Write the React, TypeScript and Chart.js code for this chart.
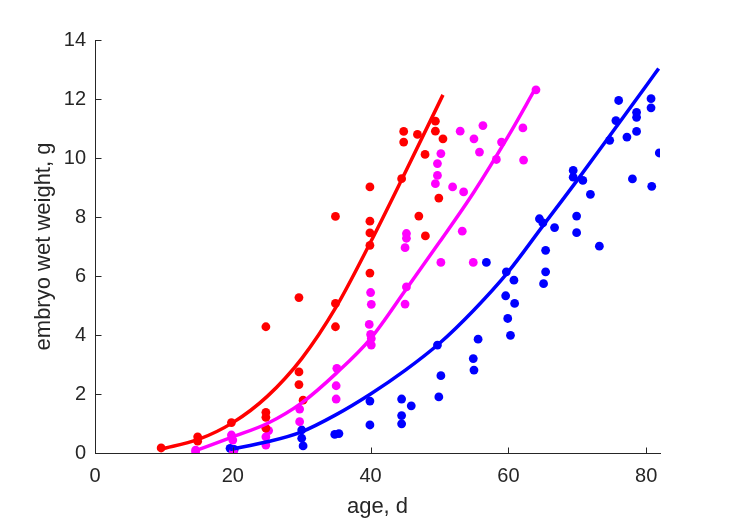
import React, { useEffect, useRef } from "react";
import { Chart, registerables } from "chart.js";

Chart.register(...registerables);

// ---- data ----
const redAge = [9.6, 14.9, 14.9, 19.8, 24.8, 24.8, 24.8, 24.8, 29.6, 29.6, 29.6, 30.2, 34.9, 34.9, 34.9, 39.9, 39.9, 39.9, 39.9, 39.9, 44.5, 44.8, 44.8, 46.8, 47.0, 47.9, 47.95, 49.4, 49.4, 49.9, 50.5];
const redWeight = [0.17, 0.55, 0.4, 1.03, 1.38, 1.21, 0.84, 4.28, 5.27, 2.75, 2.32, 1.79, 8.02, 5.07, 4.28, 9.02, 7.86, 7.46, 7.04, 6.1, 9.3, 10.9, 10.54, 10.8, 8.03, 10.12, 7.36, 11.25, 10.91, 8.64, 10.65];

const magentaAge = [14.6, 14.6, 19.8, 20.0, 20.1, 25.2, 24.8, 24.8, 29.7, 29.7, 35.1, 35.0, 35.0, 40.0, 40.1, 39.8, 40.0, 40.1, 40.1, 45.2, 45.2, 45.0, 45.2, 45.0, 49.4, 49.7, 49.7, 50.2, 50.2, 51.9, 53.5, 53.0, 53.3, 55.0, 55.8, 56.3, 54.9, 58.25, 59.0, 62.1, 62.2, 64.0];
const magentaWeight = [0.1, 0.04, 0.61, 0.44, 0.04, 0.76, 0.55, 0.27, 1.49, 1.06, 2.87, 2.28, 1.83, 5.44, 5.04, 4.36, 4.02, 3.88, 3.66, 7.44, 7.28, 6.96, 5.63, 5.05, 9.13, 9.41, 9.81, 10.15, 6.46, 9.02, 8.85, 10.91, 7.52, 10.65, 10.2, 11.1, 6.46, 9.95, 10.54, 11.02, 9.93, 12.31];

const blueAge = [19.6, 20.2, 30.0, 30.0, 30.2, 34.8, 35.4, 39.9, 39.9, 44.5, 44.5, 44.5, 45.9, 49.7, 50.2, 49.9, 54.9, 55.0, 55.6, 56.8, 59.7, 60.8, 59.6, 60.9, 59.9, 60.3, 64.5, 65.0, 66.7, 65.4, 65.4, 65.1, 69.4, 69.4, 70.8, 71.9, 69.9, 69.9, 73.2, 74.7, 75.6, 76.0, 77.2, 78.0, 78.6, 78.6, 78.6, 80.7, 80.7, 80.8, 81.9];
const blueWeight = [0.16, 0.12, 0.78, 0.5, 0.24, 0.63, 0.66, 1.76, 0.95, 1.83, 1.27, 0.99, 1.6, 3.66, 2.62, 1.9, 3.2, 2.81, 3.86, 6.46, 6.14, 5.86, 5.33, 5.07, 4.56, 3.99, 7.94, 7.8, 7.64, 6.87, 6.14, 5.74, 9.58, 9.35, 9.24, 8.77, 8.03, 7.47, 7.01, 10.6, 11.27, 11.95, 10.71, 9.29, 11.55, 11.38, 10.9, 12.01, 11.7, 9.04, 10.17];

// fitted curves
const redFitAge = [9.5, 15, 20, 25, 30, 35, 40, 45, 50.5];
const redFit = [0.13, 0.46, 1.03, 1.92, 3.2, 4.95, 7.15, 9.5, 12.14];
const magentaFitAge = [14.6, 20, 25, 30, 35, 40, 45, 50, 55, 60, 63.9];
const magentaFit = [0.08, 0.55, 1.0, 1.7, 2.7, 3.88, 5.5, 7.15, 8.85, 10.75, 12.35];
const blueFitAge = [19.6, 25, 30, 35, 40, 45, 50, 55, 60, 65, 70, 75, 80, 81.8];
const blueFit = [0.12, 0.38, 0.72, 1.3, 2.0, 2.8, 3.72, 4.85, 6.15, 7.7, 9.25, 10.85, 12.45, 13.03];

const xTicks = [0, 20, 40, 60, 80];
const yTicks = [0, 2, 4, 6, 8, 10, 12, 14];
const xLabel = "age, d";
const yLabel = "embryo wet weight, g";

const RED = "#FF0000";
const MAGENTA = "#FF00FF";
const BLUE = "#0000FF";
const AXIS = "#262626";
const FONT = "'Liberation Sans', Arial, Helvetica, sans-serif";

const toXY = (xs: number[], ys: number[]) => xs.map((x, i) => ({ x, y: ys[i] }));

const inwardTicks = {
  id: "inwardTicks",
  afterDraw(chart: any) {
    const { ctx, scales } = chart;
    const xs = scales.x;
    const ys = scales.y;
    const len = 6;
    ctx.save();
    ctx.strokeStyle = AXIS;
    ctx.lineWidth = 1;
    ctx.beginPath();
    const yb = Math.round(ys.getPixelForValue(0)) + 0.5;
    const xl = Math.round(xs.getPixelForValue(0)) + 0.5;
    xTicks.forEach((v) => {
      const px = Math.round(xs.getPixelForValue(v)) + 0.5;
      ctx.moveTo(px, yb);
      ctx.lineTo(px, yb - len);
    });
    yTicks.forEach((v) => {
      const py = Math.round(ys.getPixelForValue(v)) + 0.5;
      ctx.moveTo(xl, py);
      ctx.lineTo(xl + len, py);
    });
    ctx.stroke();
    ctx.restore();
  },
};

export default function App() {
  const ref = useRef<HTMLCanvasElement | null>(null);
  useEffect(() => {
    if (!ref.current) return;
    const pts = (data: any, color: string) => ({
      type: "scatter" as const,
      data,
      backgroundColor: color,
      borderColor: color,
      borderWidth: 0,
      pointRadius: 4.4,
      showLine: false,
      order: 1,
    });
    const line = (data: any, color: string) => ({
      type: "line" as const,
      data,
      borderColor: color,
      backgroundColor: color,
      borderWidth: 3.5,
      pointRadius: 0,
      showLine: true,
      cubicInterpolationMode: "monotone" as const,
      fill: false,
      order: 0,
    });
    const chart = new Chart(ref.current, {
      type: "scatter",
      data: {
        datasets: [
          pts(toXY(redAge, redWeight), RED),
          pts(toXY(magentaAge, magentaWeight), MAGENTA),
          pts(toXY(blueAge, blueWeight), BLUE),
          line(toXY(redFitAge, redFit), RED),
          line(toXY(magentaFitAge, magentaFit), MAGENTA),
          line(toXY(blueFitAge, blueFit), BLUE),
        ] as any,
      },
      options: {
        animation: false,
        responsive: false,
        layout: { padding: { left: 0, top: 40, right: 69, bottom: 0 } },
        plugins: { legend: { display: false }, tooltip: { enabled: false } },
        scales: {
          x: {
            type: "linear",
            min: 0,
            max: 82,
            grid: { display: false, drawTicks: false },
            border: { display: true, color: AXIS, width: 1 },
            afterBuildTicks: (s: any) => {
              s.ticks = xTicks.map((v) => ({ value: v }));
            },
            afterFit: (s: any) => {
              s.height = 68;
            },
            ticks: {
              color: AXIS,
              padding: 11,
              maxRotation: 0,
              autoSkip: false,
              font: { family: FONT, size: 20 },
            },
            title: {
              display: true,
              text: xLabel,
              color: AXIS,
              font: { family: FONT, size: 22 },
              padding: { top: 0, bottom: 1 },
            },
          },
          y: {
            type: "linear",
            min: 0,
            max: 14,
            grid: { display: false, drawTicks: false },
            border: { display: true, color: AXIS, width: 1 },
            afterBuildTicks: (s: any) => {
              s.ticks = yTicks.map((v) => ({ value: v }));
            },
            afterFit: (s: any) => {
              s.width = 95;
            },
            ticks: {
              color: AXIS,
              padding: 9,
              autoSkip: false,
              font: { family: FONT, size: 20 },
            },
            title: {
              display: true,
              text: yLabel,
              color: AXIS,
              font: { family: FONT, size: 22 },
              padding: { top: 31, bottom: 0 },
            },
          },
        },
      },
      plugins: [inwardTicks],
    });
    return () => chart.destroy();
  }, []);
  return (
    <div style={{ position: "fixed", left: 0, top: 0, width: 729, height: 521, background: "#fff" }}>
      <canvas ref={ref} width={729} height={521} style={{ width: 729, height: 521, display: "block" }} />
    </div>
  );
}
